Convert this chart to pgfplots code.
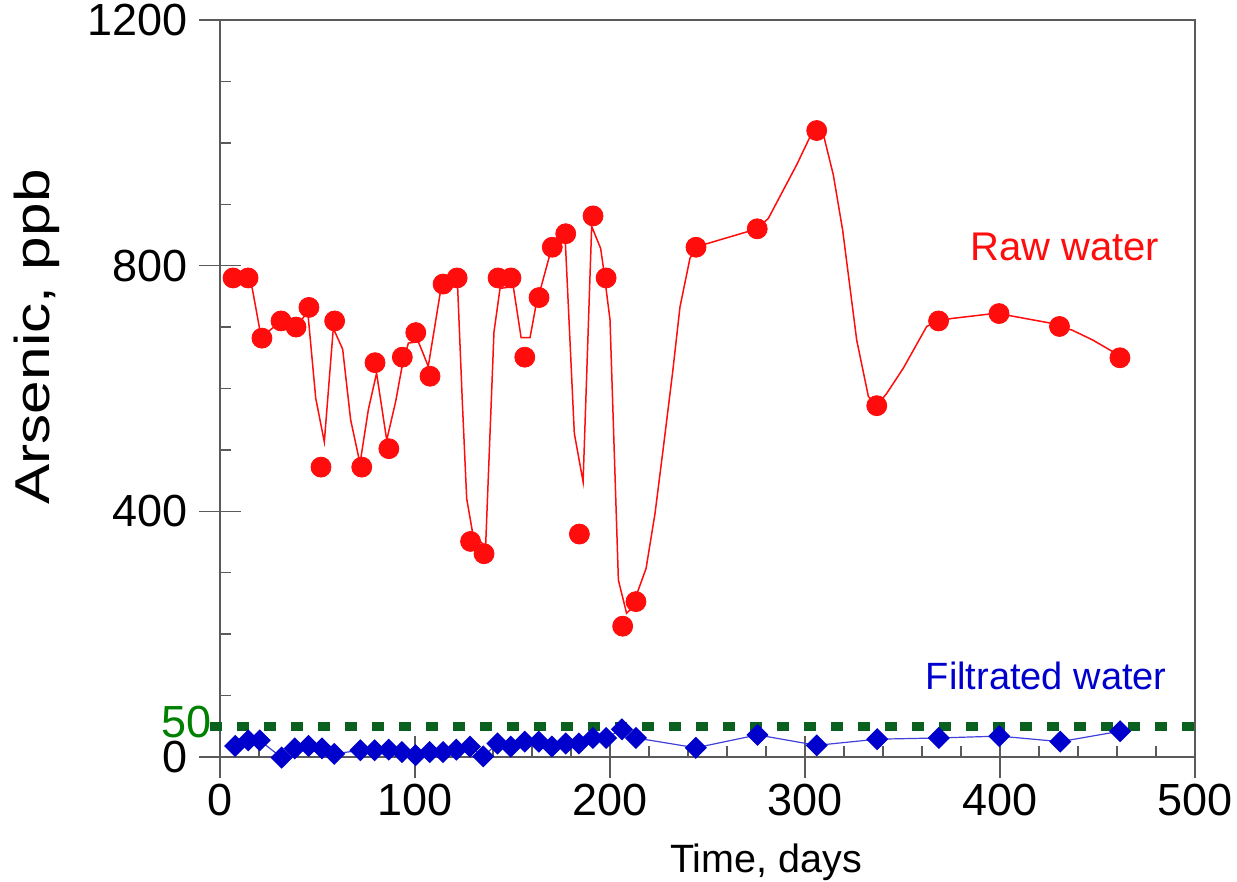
\documentclass[border=0pt]{standalone}
\usepackage{pgfplots}
\pgfplotsset{compat=1.18}
\usepackage{fontspec}
\setmainfont{Liberation Sans}
\definecolor{rawred}{RGB}{255,12,12}
\definecolor{filtblue}{RGB}{0,0,205}
\definecolor{limgreen}{RGB}{10,96,30}
\definecolor{labgreen}{RGB}{0,128,0}
\definecolor{axgray}{RGB}{90,90,90}

\begin{document}
\begin{tikzpicture}
\begin{axis}[
  scale only axis,
  width=487.5pt, height=368.5pt,
  xmin=0, xmax=500, ymin=0, ymax=1200,
  xtick={0,100,...,500}, ytick={0,400,800,1200},
  minor x tick num=4, minor y tick num=3,
  tick pos=left,
  tick align=inside,
  major tick length=21pt, minor tick length=5.5pt,
  every major x tick/.append style={yshift=-10.5pt},
  every major y tick/.append style={xshift=-10.5pt},
  tick style={axgray, line width=0.7pt},
  axis line style={axgray, line width=0.8pt},
  /pgf/number format/assume math mode=true,
  /pgf/number format/set thousands separator={},
  ticklabel style={font=\fontsize{22.5}{27}\selectfont},
  xticklabel style={yshift=-10pt},
  yticklabel style={inner sep=0pt, xshift=-16pt},
  clip=false,
]
% limit line at 50 ppb
\addplot[limgreen, line width=4.5pt, dash pattern=on 6pt off 7.5pt, forget plot]
  coordinates {(-5,50) (502,50)};

% raw water: smoothed line
\addplot[rawred, line width=0.75pt, mark=none] coordinates {
(6.7,780) (15.0,781) (16.6,762) (20.5,694) (21.5,684) (31.3,710) (39,700)
(45,725) (49.1,584) (53.5,513) (58.1,698) (62.9,664) (67.0,549) (71.8,478)
(76.1,566) (80.3,625) (85.5,516) (90.1,579) (93.2,633) (96.6,674) (101.7,676)
(103.8,660) (106.8,636) (112.8,753) (114.4,772) (121.7,778) (124.3,576)
(126.5,421) (129.6,364) (136.2,342) (140.5,692) (143.6,763) (150.4,766)
(154.4,683) (159,683) (161.9,733) (168.9,815) (170.4,830) (177,845)
(181.7,527) (186.2,448) (190.6,864) (195.2,828) (196.6,797) (200,712)
(204.3,288) (208.5,234) (211.1,242) (218.5,307) (223.1,397) (227.4,505)
(232.1,626) (235.9,733) (241,812) (244.6,831) (275.5,860) (281.2,877)
(287.2,913) (295.7,964) (302.6,1010) (306,1020) (309.7,1010) (314.5,948)
(319.3,858) (326.5,679) (332.5,587) (336.8,572) (341.9,592) (350.4,633)
(362.4,701) (368.5,710) (375.2,714) (394,721) (399.5,722) (406,718)
(425,707) (430.5,701) (437,695) (447.5,679) (457.8,660) (461.5,650)
};
% raw water: measured points
\addplot[only marks, mark=*, mark size=5pt, rawred, mark options={draw=rawred, fill=rawred}] coordinates {
(6.7,780) (14.4,780) (21.5,682) (31.3,710) (39,700) (45.6,732) (51.8,472)
(58.8,710) (72.7,472) (79.5,642) (86.6,502) (93.5,651) (100.4,691)
(107.7,620) (114.4,770) (121.6,780) (128.5,351) (135.4,331) (142.6,780)
(149.2,780) (156.3,651) (163.6,748) (170.4,830) (177.3,852) (184.3,363)
(191.3,881) (198,780) (206.5,213) (213.3,253) (244.1,830) (275.5,860)
(306,1020) (336.8,572) (368.5,710) (399.5,722) (430.5,701) (461.5,650)
};

% filtrated water
\addplot[filtblue!75, line width=0.6pt, mark=square*, mark size=3.6pt,
  mark options={rotate=45, draw=filtblue, fill=filtblue}] coordinates {
(7.8,18) (14.5,27) (20.4,27) (31.6,-1) (38.3,14) (45.4,18) (52.3,14)
(58.6,5) (72,11) (79.3,11) (86.5,12) (93.3,8) (100.3,3) (107.5,8)
(114.4,8) (121.2,12) (128.2,17) (135,1) (142.3,22) (149.1,17) (156.3,25)
(163.5,25) (170.2,17) (177.3,22) (184,22) (191.2,31) (198,31) (206.1,45)
(213.3,31) (244,15) (275.6,36) (306,19) (337,29) (368.6,31) (399.6,34)
(430.9,25) (461.6,42)
};

\node[anchor=base west, text=rawred, font=\fontsize{20}{24}\selectfont, inner sep=0pt]
  at (axis cs:384.6,808) {Raw water};
\node[anchor=base east, text=filtblue, font=\fontsize{19}{23}\selectfont, inner sep=0pt]
  at (axis cs:485.6,110.7) {Filtrated water};
\node[anchor=base east, text=labgreen, font=\fontsize{22.5}{27}\selectfont, inner sep=0pt]
  at (axis cs:-4.1,32) {50};
\node[anchor=base, font=\fontsize{19.75}{24}\selectfont, inner sep=0pt]
  at ([yshift=-57.5pt]rel axis cs:0.56,0) {Time, days};
\node[anchor=base, rotate=90, font=\fontsize{24.5}{29}\selectfont, inner sep=0pt]
  at ([xshift=-85pt]rel axis cs:0,0.57) {\scalebox{1.23}[1]{Arsenic, ppb}};
\end{axis}
\pgfresetboundingbox
\path ([xshift=-110pt,yshift=-62pt]current axis.south west)
  rectangle ([xshift=21pt,yshift=10pt]current axis.north east);
\end{tikzpicture}
\end{document}
